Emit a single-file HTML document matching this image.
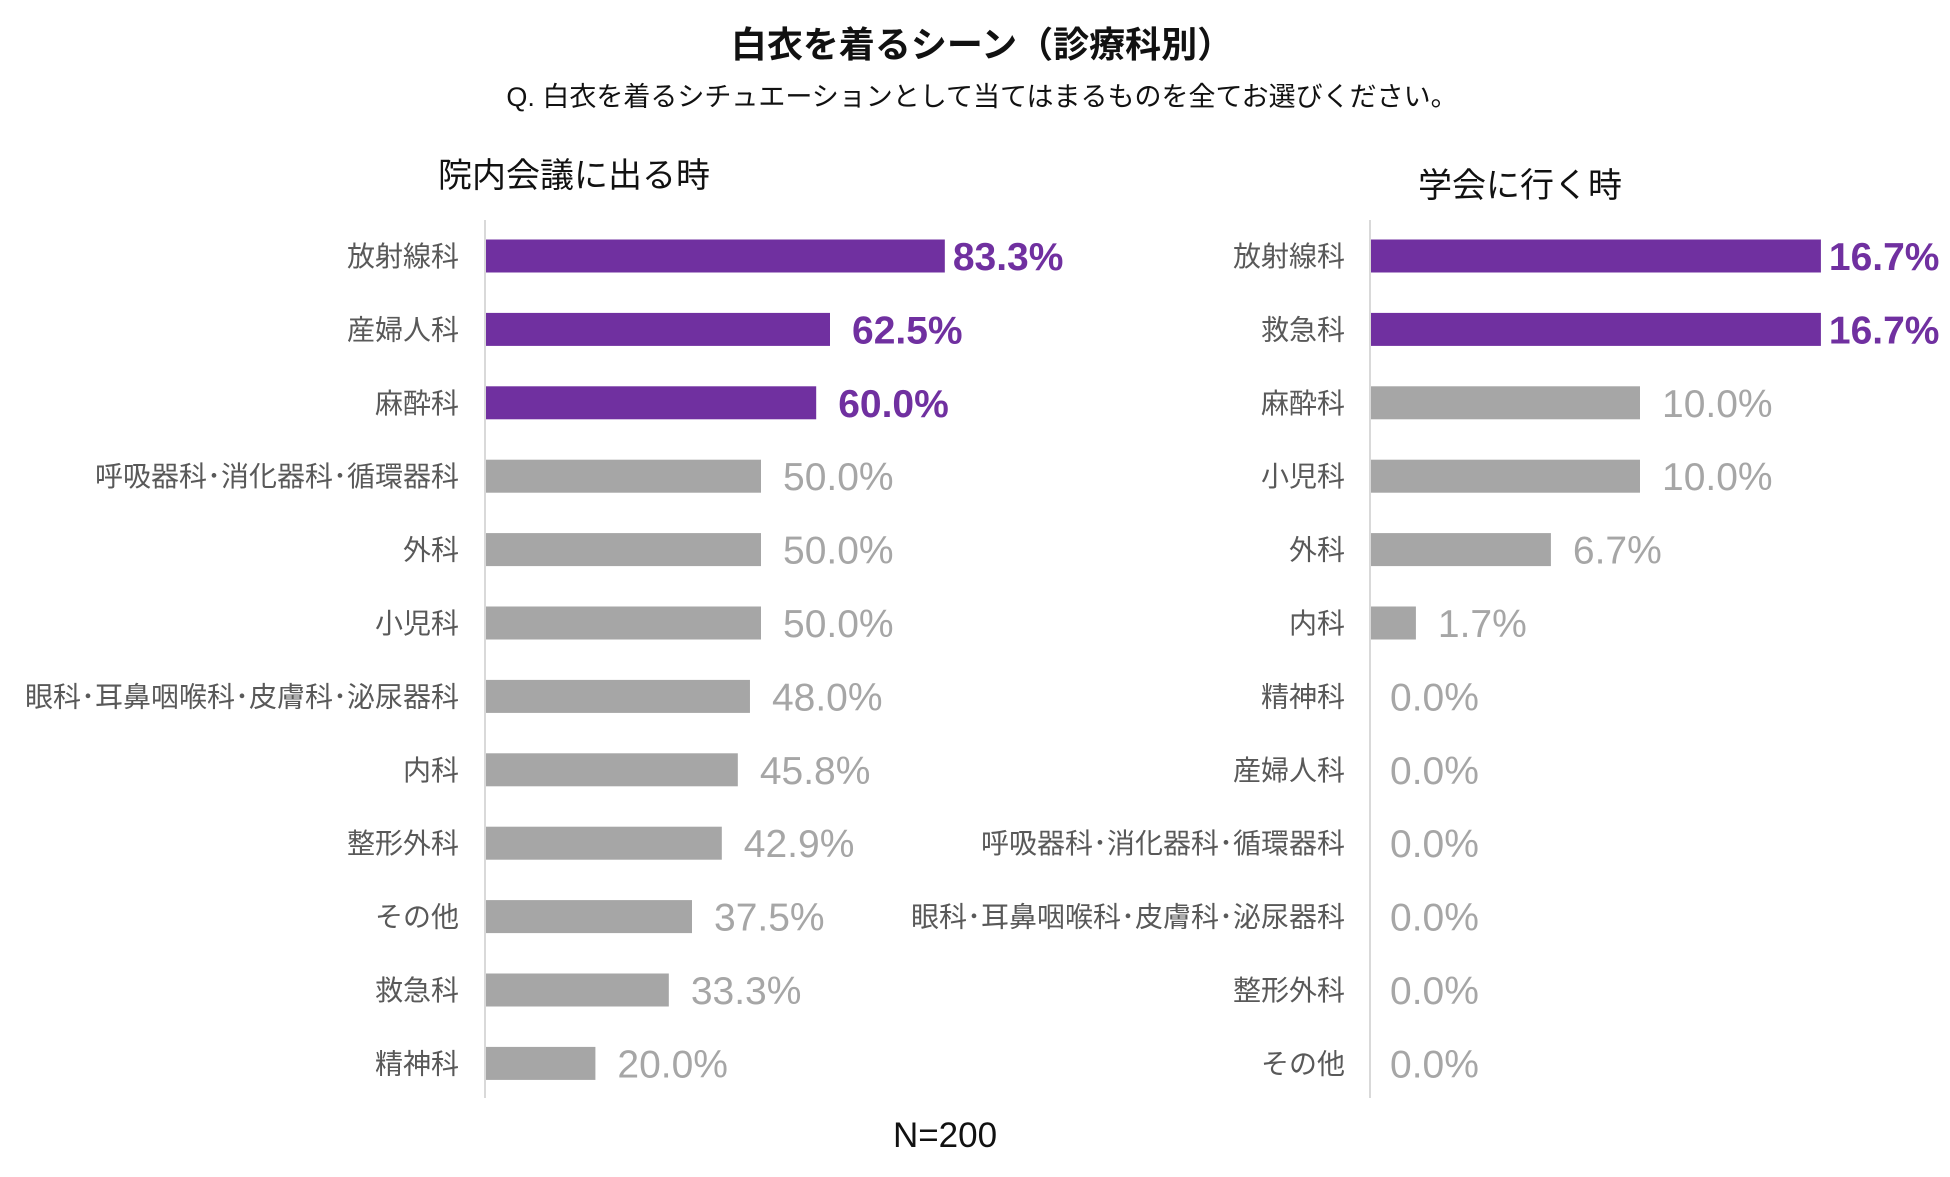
<!DOCTYPE html>
<html><head><meta charset="utf-8"><style>
html,body{margin:0;padding:0;background:#fff;}
svg{display:block;font-family:"Liberation Sans","Noto Sans CJK JP",sans-serif;}
</style></head><body>
<svg id="chart" width="1950" height="1177" viewBox="0 0 1950 1177" xmlns="http://www.w3.org/2000/svg">
<text x="982" y="57" text-anchor="middle" font-size="36" font-weight="bold" fill="#111">白衣を着るシーン（診療科別）</text>
<text x="982" y="106" text-anchor="middle" font-size="27" fill="#111">Q. 白衣を着るシチュエーションとして当てはまるものを全てお選びください。</text>
<text x="574" y="187" text-anchor="middle" font-size="34" fill="#111">院内会議に出る時</text>
<text x="1520" y="197" text-anchor="middle" font-size="34" fill="#111">学会に行く時</text>
<text x="945" y="1147" text-anchor="middle" font-size="35" fill="#111">N=200</text>
<g id="left"></g>
<g id="right"></g>
</svg>
<script>
const leftCategories=["放射線科","産婦人科","麻酔科","呼吸器科･消化器科･循環器科","外科","小児科","眼科･耳鼻咽喉科･皮膚科･泌尿器科","内科","整形外科","その他","救急科","精神科"];
const leftValues=[83.3,62.5,60.0,50.0,50.0,50.0,48.0,45.8,42.9,37.5,33.3,20.0];
const leftHighlight=[1,1,1,0,0,0,0,0,0,0,0,0];
const rightCategories=["放射線科","救急科","麻酔科","小児科","外科","内科","精神科","産婦人科","呼吸器科･消化器科･循環器科","眼科･耳鼻咽喉科･皮膚科･泌尿器科","整形外科","その他"];
const rightValues=[16.7,16.7,10.0,10.0,6.7,1.7,0.0,0.0,0.0,0.0,0.0,0.0];
const rightHighlight=[1,1,0,0,0,0,0,0,0,0,0,0];
const NS="http://www.w3.org/2000/svg";
function mk(tag,attrs,parent){const e=document.createElementNS(NS,tag);for(const k in attrs)e.setAttribute(k,attrs[k]);parent.appendChild(e);return e;}
function panel(g,cats,vals,hl,axisX,pxPer,labelRight){
  const y0=256,step=73.4,bh=33;
  const yPos=i=>y0+i*step;
  const xPos=v=>axisX+v*pxPer;
  const axis=mk('line',{x1:axisX,x2:axisX,y1:220,y2:1098,stroke:'#d9d9d9','stroke-width':2},g);
  
  
  const mx=Math.max(...vals);
  cats.forEach((c,i)=>{
    const y=yPos(i);
    const col=hl[i]?'#7030a0':'#a6a6a6';
    const lab=mk('text',{x:labelRight,y:y+10,'text-anchor':'end','font-size':28,fill:'#595959'},g);
    lab.textContent=c;
    
    
    const w=xPos(vals[i])-axisX;
    const bar=mk('rect',{x:axisX+1,y:y-bh/2,width:Math.max(0,w-1),height:bh,fill:col},g);
    
    
    const gap=(vals[i]===mx)?8:22;
    const vx=vals[i]===0?axisX+20:xPos(vals[i])+gap;
    const vt=mk('text',{x:vx,y:y+14,'font-size':39,fill:col,'font-weight':hl[i]?'bold':'normal'},g);
    vt.textContent=vals[i].toFixed(1)+'%';
    
    
  });
}
panel(document.getElementById('left'),leftCategories,leftValues,leftHighlight,485,5.52,459);
panel(document.getElementById('right'),rightCategories,rightValues,rightHighlight,1370,27.0,1345);
</script>
</body></html>
